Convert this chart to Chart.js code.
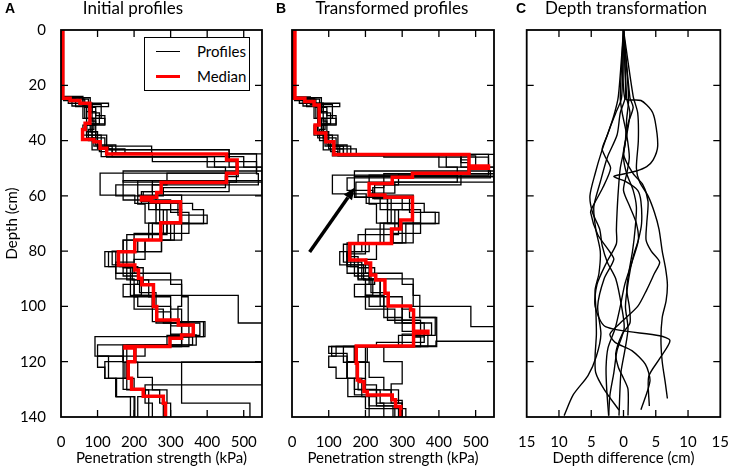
<!DOCTYPE html>
<html><head><meta charset="utf-8">
<script src="https://cdn.jsdelivr.net/npm/chart.js@4.4.1/dist/chart.umd.min.js"></script>
<style>
html,body{margin:0;padding:0;background:#fff;}
body{width:737px;height:470px;position:relative;overflow:hidden;font-family:Lato,"Open Sans",sans-serif;color:#000;}
canvas{position:absolute;top:0;}
.t{position:absolute;white-space:nowrap;}
.ttl{font-size:17px;text-align:center;width:240px;top:-3px;}
.let{font-family:"Liberation Sans",Arial,sans-serif;font-weight:bold;font-size:14px;top:0px;}
#leg{position:absolute;left:144px;top:37px;width:104px;height:52px;border:1.5px solid #000;background:#fff;}
.lg{position:absolute;left:11px;width:24px;}
.lt{position:absolute;left:52px;font-size:15px;}
</style></head>
<body>
<canvas id="ca" width="266" height="470" style="left:0"></canvas>
<canvas id="cb" width="244" height="470" style="left:266px"></canvas>
<canvas id="cc" width="227" height="470" style="left:510px"></canvas>

<div class="t let" style="left:5px">A</div>
<div class="t let" style="left:276px">B</div>
<div class="t let" style="left:516px">C</div>
<div class="t ttl" style="left:13px">Initial profiles</div>
<div class="t ttl" style="left:272px">Transformed profiles</div>
<div class="t ttl" style="left:506px">Depth transformation</div>
<div id="leg">
  <div class="lg" style="top:13px;border-top:1.3px solid #000"></div>
  <div class="lt" style="top:4px">Profiles</div>
  <div class="lg" style="top:37px;border-top:3.5px solid #ff0000"></div>
  <div class="lt" style="top:29px">Median</div>
</div>

<script>
// ---------- axis ticks ----------
const depthTicks = [0, 20, 40, 60, 80, 100, 120, 140];
const kPaTicks = [0, 100, 200, 300, 400, 500];
const diffTicks = [-15, -10, -5, 0, 5, 10, 15];
const maxDepth = 140;

// ---------- Panel A: initial profiles, [top depth (cm), strength (kPa)] ----------
const medianA = [[0,5],[24.7,25],[25.5,52],[26.5,79],[33.7,66],[36,59],[39.6,90],[40.4,107],[42.8,125],[44.9,453],[47,482],[51.8,453],[55.2,274],[58.8,262],[60.5,220],[61.5,248],[62.1,327],[69.7,273],[76,202],[80.2,157],[85,202],[86.8,212],[89.8,221],[92.2,253],[100,262],[104.9,321],[106.7,362],[110.3,330],[111.5,298],[114.5,175],[115,202],[120,184],[126,193],[130,225],[132.5,280],[135,286]];
const profA1 = [[0,3],[24.5,60],[27.5,85],[33,95],[38,110],[42.4,130],[43.4,460],[47,480],[51.8,290],[56,250],[61.5,300],[66,350],[70,310],[76,170],[86,190],[96,485],[106,600],[120.2,330],[135,517]];
const profA2 = [[0,2],[25,75],[26.5,130],[27.7,60],[32,120],[34.4,70],[38,125],[42,248],[44.8,535],[51.8,107],[59.7,202],[62.7,360],[65,390],[70,300],[76,200],[80.2,130],[85.6,210],[90.4,330],[96.5,348],[105.5,394],[110.9,93],[118,170],[126,150],[132.6,202]];
const profA3 = [[0,4],[24,60],[26.5,85],[29.5,70],[36.8,100],[42.4,125],[43.3,460],[49.6,550],[54.5,170],[61.5,240],[65,290],[73.6,275],[80.2,160],[85.6,180],[90.4,240],[96.5,250],[100,300],[106,330],[110.3,370],[114,170],[120.2,210],[125.7,250],[130.2,270],[135,300]];
const profA4 = [[0,6],[24.7,40],[27.7,65],[32,85],[38,95],[41.6,150],[44.8,600],[50.6,600],[54.5,250],[58.5,220],[62.7,320],[67,400],[70,330],[76,230],[83,200],[88,300],[92,330],[100,320],[105.5,390],[110.9,330],[113.9,100],[118,130],[126,180],[130.2,240],[135,250]];
const profA5 = [[0,5],[25,20],[26.5,75],[29.5,95],[34.4,60],[38,85],[43.4,110],[45.8,500],[49.6,600],[51,170],[55,550],[59.7,260],[65,330],[70,250],[76,170],[80.2,120],[85.6,150],[90,200],[96,250],[100.1,260],[106,350],[110,300],[114.5,170],[120,120],[126,150],[132.6,190]];
const profA6 = [[0,3],[24.5,80],[27,110],[32,80],[36.8,95],[40,105],[44,125],[46,400],[49.6,450],[54.5,210],[59.7,330],[65,280],[73.6,200],[76,230],[80.2,180],[86,225],[92,200],[96.5,300],[101,330],[106,380],[110.5,290],[114,180],[120.2,550],[128.4,230],[132.6,210]];
const profA7 = [[0,7],[25.5,30],[27.5,70],[32,90],[36,75],[40,100],[43,175],[45,460],[47,480],[55,460],[58.5,225],[62,270],[69.9,240],[76,210],[80.2,150],[85,195],[90.4,220],[95.9,200],[101,280],[106,330],[111,350],[114.5,200],[120.2,175],[126,200],[130.2,290],[135,280]];
const profA8 = [[0,2],[24.2,50],[27,80],[30,105],[34,70],[39,90],[42,140],[44.5,250],[47.6,535],[52,540],[56,150],[60,220],[62,260],[70,290],[74,180],[80,140],[85,170],[89,215],[95,260],[102,300],[107,360],[111,330],[114.5,205],[120.2,180],[126,170],[130,230],[135,240]];
const profA9 = [[0,5],[25,65],[28,95],[31,120],[34,85],[39,120],[43,140],[45.8,420],[49.6,485],[53,450],[57,280],[60,210],[63,230],[69.9,350],[73.6,275],[80.2,200],[84,150],[88,210],[92,170],[96.5,210],[100,250],[105.5,300],[110.3,360],[113.9,230],[118,100],[122,120],[126,152],[132.6,200]];

// ---------- Panel B: transformed profiles ----------
const medianB = [[0,8],[24.7,35],[25.9,60],[27.1,74],[34.4,63],[37.3,92],[40.4,114],[45,482],[49.2,535],[50,482],[51.8,328],[53.3,273],[55.5,210],[59.7,253],[60.5,328],[68.7,296],[72,271],[77.2,157],[83.2,201],[84.3,214],[88.6,228],[90.4,253],[95.2,262],[99.8,323],[101.3,331],[109,370],[109.6,331],[114.3,175],[120.6,178],[126.6,184],[127.2,196],[130.8,205],[132,273],[133.8,282],[136.2,296]];
const profB1 = [[0,3],[24.8,60],[27,85],[33,95],[38,110],[42,130],[45,460],[48,480],[52,290],[56,250],[60.5,300],[65,350],[70,310],[77,170],[84,190],[90,240],[100,487],[107.3,600],[112.6,392],[114.3,250],[120,300],[128,270],[134,300]];
const profB2 = [[0,2],[25,75],[26.5,130],[27.7,60],[32,120],[34.4,70],[38,125],[42,160],[45,535],[52.5,110],[59.3,202],[62.7,360],[66,390],[70,300],[77,190],[80.2,130],[85,210],[90,330],[96,348],[104,394],[114.5,108],[118,150],[126,170],[132,230],[136,275]];
const profB3 = [[0,4],[24.5,60],[26.5,85],[29.5,70],[36.8,100],[42,125],[45.2,460],[49.6,550],[53,170],[60.5,240],[65,290],[72,275],[77,160],[85.6,180],[90.4,240],[96,250],[100,300],[105,330],[109,370],[114.5,170],[120.2,210],[125.7,250],[130.2,270],[135,300]];
const profB4 = [[0,6],[24.7,40],[27.7,65],[32,85],[38,95],[41.6,150],[45,600],[50.6,600],[52,250],[57,220],[60.5,320],[66,400],[70,330],[77,230],[83,200],[88,300],[92,330],[100,320],[104,390],[110.5,330],[114.5,100],[117,150],[126,180],[130.2,240],[135,250]];
const profB5 = [[0,5],[24.8,20],[26.5,75],[29.5,95],[34.4,60],[38,85],[43.4,110],[45.5,500],[49.6,600],[51,170],[53,550],[55,174],[60.5,260],[65,330],[70,250],[77,170],[80.2,150],[85.6,180],[90,200],[96,250],[100.1,260],[105,350],[110,300],[114.5,170],[120,150],[126,190],[132.6,210]];
const profB6 = [[0,3],[24.5,80],[27,110],[32,80],[36.8,95],[40,105],[44,125],[45.5,400],[49.6,450],[52.5,210],[59.7,330],[65,280],[72,200],[77,150],[82,180],[86,225],[92,200],[96.5,300],[101,330],[106,380],[110.5,290],[114.5,140],[120.2,200],[128.4,230],[132.6,210],[136,290]];
const profB7 = [[0,7],[25.5,30],[27.5,70],[32,90],[36,75],[40,100],[43,175],[45,460],[47,480],[51.8,460],[56,225],[61,270],[69.9,240],[77,210],[80.2,150],[85,195],[90.4,220],[95.9,200],[101,280],[106,330],[111,350],[114.5,200],[120.2,175],[126,200],[130.2,290],[135,280]];
const profB8 = [[0,2],[24.2,50],[27,80],[30,105],[34,70],[39,90],[42,140],[44.8,250],[46,535],[51,540],[53.5,150],[58,220],[61,260],[70,290],[74,180],[77.5,140],[84,170],[89,215],[95,260],[100,300],[106,360],[111,330],[114.3,205],[120.2,180],[126,170],[130,230],[135,300]];
const profB9 = [[0,5],[25,65],[28,95],[31,120],[34,85],[39,120],[43,140],[45,420],[49.6,485],[52,450],[55,280],[59,210],[63,230],[69.9,350],[73.6,275],[77,200],[81,150],[88,210],[92,170],[96.5,210],[100,250],[104,300],[109,360],[113,230],[114.5,120],[118,100],[122,120],[126,152],[132.6,200],[137,310]];

// arrow annotation in panel B: [strength, depth] of tail and head
const arrowTail = [48, 80.3];
const arrowHead = [171, 57];

// ---------- Panel C: depth difference (cm) vs depth (cm), [difference, depth] ----------
const shiftC1 = [[0,0],[-0.8,24],[-1.5,31],[-2.5,38],[-3.3,43],[-2.8,46],[-2.0,50],[-3.2,57],[-4.8,64],[-5.1,66],[-4.0,74],[-2.2,80],[-1.5,83],[-3.0,90],[-4.0,100],[-3.5,110],[-4.2,118],[-5.5,125],[-7.8,132],[-9.2,139.5]];
const shiftC2 = [[0,0],[-0.3,24.5],[-1.2,30],[-2.2,36],[-3.4,44],[-4.4,52],[-5.2,60],[-4.8,66],[-3.7,72],[-3.3,78],[-2.5,84],[-1.2,90],[-0.3,100],[0.1,108],[-1.0,116],[-1.5,124],[-2.1,132],[-2.3,139.5]];
const shiftC3 = [[0,0],[0.3,24],[-0.5,30],[-1.0,38],[-2.5,46],[-3.6,55],[-4.6,64],[-4.3,72],[-3.6,80],[-3.8,88],[-4.4,94],[-4.3,100],[-4.2,110],[-4.4,118],[-4.3,124],[-3.0,130],[-0.7,137.5]];
const shiftC4 = [[0,0],[1.0,24.5],[1.5,28],[0.7,34],[0.2,42],[-0.5,50],[-0.8,58],[-1.0,66],[-1.1,72.3],[-1.1,77.3],[-2.6,84],[-4.1,92],[-4.4,100],[-2.8,107.3],[5.6,110.6],[7.2,112.4],[5.6,118.9],[3.9,125.4],[4.0,136]];
const shiftC5 = [[0,0],[0.2,24.7],[2.7,25.5],[4.3,29],[4.9,33],[5.3,42],[4.6,47],[3.6,49.4],[2.0,51],[0.2,52],[-1.5,53],[0.5,55],[2.2,58],[2.7,62],[2.8,70],[2.3,76],[1.5,82],[0.8,90],[0.3,100],[0.7,108],[0.2,116],[-0.4,124],[-0.7,139.5]];
const shiftC6 = [[0,0],[1.5,24],[2.2,30],[2.3,40],[2.0,50],[2.5,55],[3.8,60],[4.8,66],[5.5,72],[6.0,80],[6.5,86],[6.8,92],[6.6,98],[6.0,104],[5.8,112],[6.0,120],[6.5,128],[6.8,133.3]];
const shiftC7 = [[0,0],[0.5,24.5],[1.0,30],[0.5,38],[0.0,45],[1.5,52],[3.0,56],[3.8,62],[3.6,70],[3.5,76],[4.3,80],[5.6,84],[4.8,88],[3.6,94],[2.2,100],[-0.5,106],[-2.1,110],[-1.3,113],[1.3,116],[3.4,121],[4.1,127],[2.7,137.4]];
const shiftC8 = [[0,0],[0.8,24.7],[0.5,32],[0.3,40],[0.0,46],[0.5,52],[1.5,58],[2.0,64],[1.8,72],[1.4,80],[0.8,88],[0.5,94],[0.9,100],[1.0,106],[-0.2,110],[-1.2,117],[-0.8,122],[0.0,126],[0.7,130],[0.7,139.5]];
const shiftC9 = [[0,0],[-0.5,24.3],[-0.2,30],[0.5,38],[0.9,46],[0.5,52],[0.0,58],[1.0,64],[2.0,70],[2.3,76],[1.3,84],[0.2,92],[-0.5,100],[-1.3,108],[-2.4,115],[-2.7,122],[-2.6,130],[-2.3,139.5]];

// ---------- helpers ----------
const FONT = 'Lato, "Open Sans", sans-serif';
function stepPoints(p){
  const pts = p.map(([d,s]) => ({x:s, y:d}));
  pts.push({x:p[p.length-1][1], y:maxDepth});
  return pts;
}
function profileSet(p){
  return {data: stepPoints(p), showLine:true, stepped:'after', borderColor:'#000', borderWidth:1.3, pointRadius:0, clip:0};
}
function medianSet(p){
  return {data: stepPoints(p), showLine:true, stepped:'after', borderColor:'#ff0000', borderWidth:3.5, pointRadius:0, clip:0};
}
function shiftSet(p){
  return {data: p.map(([x,d]) => ({x:x, y:d})), showLine:true, tension:0.25, borderColor:'#000', borderWidth:1.4, pointRadius:0, clip:0};
}
function setTicks(list){ return s => { s.ticks = list.map(v => ({value:v})); }; }

const framePlugin = {
  id:'frame',
  afterDraw(chart){
    const {ctx, chartArea:a, scales} = chart;
    const L = 7;
    ctx.save();
    ctx.strokeStyle = '#000';
    ctx.lineWidth = 1.3;
    ctx.beginPath();
    const xs = scales.x, ys = scales.y;
    xs.ticks.forEach(t => {
      if (t.value <= xs.min || t.value >= xs.max) return;
      const px = xs.getPixelForValue(t.value);
      ctx.moveTo(px, a.bottom); ctx.lineTo(px, a.bottom - L);
      ctx.moveTo(px, a.top); ctx.lineTo(px, a.top + L);
    });
    ys.ticks.forEach(t => {
      if (t.value <= ys.min || t.value >= ys.max) return;
      const py = ys.getPixelForValue(t.value);
      ctx.moveTo(a.left, py); ctx.lineTo(a.left + L, py);
      ctx.moveTo(a.right, py); ctx.lineTo(a.right - L, py);
    });
    ctx.stroke();
    ctx.lineWidth = 1.8;
    ctx.strokeRect(a.left, a.top, a.right - a.left, a.bottom - a.top);
    ctx.restore();
  }
};

const arrowPlugin = {
  id:'arrow',
  afterDatasetsDraw(chart){
    const {ctx, scales:{x, y}} = chart;
    const x0 = x.getPixelForValue(arrowTail[0]), y0 = y.getPixelForValue(arrowTail[1]);
    const x1 = x.getPixelForValue(arrowHead[0]), y1 = y.getPixelForValue(arrowHead[1]);
    const ang = Math.atan2(y1 - y0, x1 - x0);
    const hl = 12, hw = 5;
    const bx = x1 - hl*Math.cos(ang), by = y1 - hl*Math.sin(ang);
    ctx.save();
    ctx.strokeStyle = '#000'; ctx.fillStyle = '#000';
    ctx.lineWidth = 3.5;
    ctx.beginPath(); ctx.moveTo(x0, y0); ctx.lineTo(bx, by); ctx.stroke();
    ctx.beginPath();
    ctx.moveTo(x1, y1);
    ctx.lineTo(bx + hw*Math.sin(ang), by - hw*Math.cos(ang));
    ctx.lineTo(bx - hw*Math.sin(ang), by + hw*Math.cos(ang));
    ctx.closePath(); ctx.fill();
    ctx.restore();
  }
};

function makeScales(opts){
  const tickFont = {family:FONT, size:15};
  return {
    x:{
      type:'linear', min:opts.xmin, max:opts.xmax,
      afterBuildTicks: setTicks(opts.xticks),
      afterFit: s => { s.height = 53; },
      grid:{display:false}, border:{display:false},
      ticks:{color:'#000', font:tickFont, padding:8, maxRotation:0, autoSkip:false,
             callback: opts.xcb || (v => v)},
      title:{display:true, text:opts.xtitle, color:'#000', font:{family:FONT, size:15}, padding:{top:0, bottom:3}}
    },
    y:{
      type:'linear', reverse:true, min:0, max:maxDepth,
      afterBuildTicks: setTicks(depthTicks),
      afterFit: s => { s.width = opts.yw; },
      grid:{display:false}, border:{display:false},
      ticks:{display:opts.ylabels, color:'#000', font:tickFont, padding:7, autoSkip:false},
      title:{display:opts.ylabels, text:'Depth (cm)', color:'#000', font:{family:FONT, size:15}, padding:{top:3, bottom:0}}
    }
  };
}

function baseOptions(pad, scales){
  return {
    responsive:false, animation:false, events:[],
    layout:{padding:pad},
    plugins:{legend:{display:false}, tooltip:{enabled:false}, title:{display:false}},
    scales:scales
  };
}

// Panel A
new Chart(document.getElementById('ca'), {
  type:'scatter',
  data:{datasets:[medianSet(medianA), ...[profA1,profA2,profA3,profA4,profA5,profA6,profA7,profA8,profA9].map(profileSet)]},
  options: baseOptions({left:0, right:4, top:30, bottom:0},
    makeScales({xmin:0, xmax:550, xticks:kPaTicks, xtitle:'Penetration strength (kPa)', yw:61, ylabels:true})),
  plugins:[framePlugin]
});

// Panel B
new Chart(document.getElementById('cb'), {
  type:'scatter',
  data:{datasets:[medianSet(medianB), ...[profB1,profB2,profB3,profB4,profB5,profB6,profB7,profB8,profB9].map(profileSet)]},
  options: baseOptions({left:0, right:16, top:30, bottom:0},
    makeScales({xmin:0, xmax:550, xticks:kPaTicks, xtitle:'Penetration strength (kPa)', yw:26, ylabels:false})),
  plugins:[framePlugin, arrowPlugin]
});

// Panel C
new Chart(document.getElementById('cc'), {
  type:'scatter',
  data:{datasets:[shiftC1,shiftC2,shiftC3,shiftC4,shiftC5,shiftC6,shiftC7,shiftC8,shiftC9].map(shiftSet)},
  options: baseOptions({left:0, right:10, top:30, bottom:0},
    makeScales({xmin:-15, xmax:15, xticks:diffTicks, xtitle:'Depth difference (cm)', yw:14, ylabels:false, xcb: v => Math.abs(v)})),
  plugins:[framePlugin]
});
</script>
</body></html>
